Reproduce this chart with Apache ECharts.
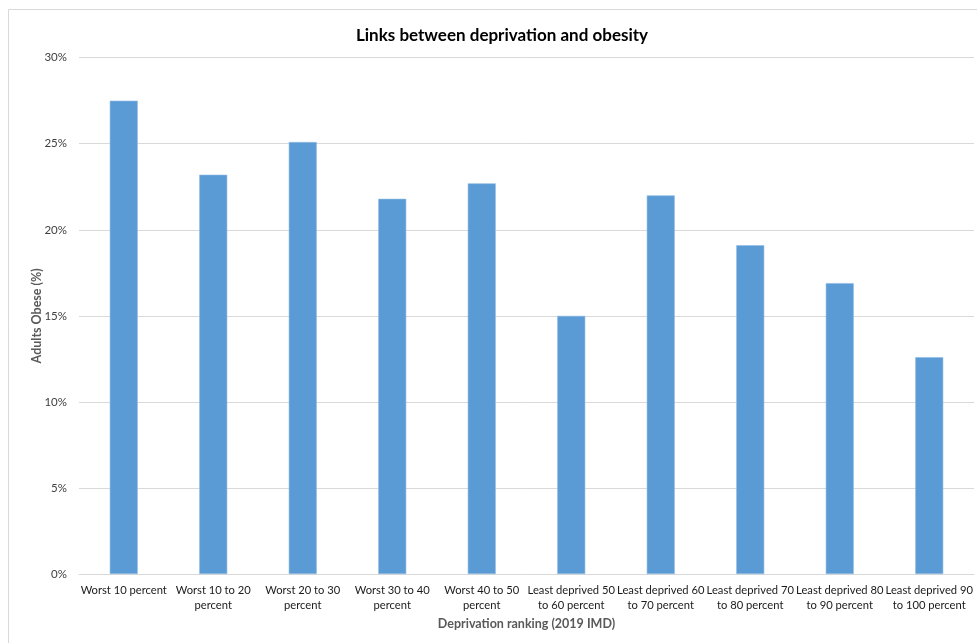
<!DOCTYPE html>
<html>
<head>
<meta charset="utf-8">
<script src="https://cdn.jsdelivr.net/npm/echarts@6/dist/echarts.min.js"></script>
<style>
  html, body { margin: 0; padding: 0; background: #ffffff; }
  #chart { width: 977px; height: 643px; }
</style>
</head>
<body>
<div id="chart"></div>
<script>
// Deprivation decile labels (IMD 2019), wrapped as shown under the axis
const categories = [
  'Worst 10 percent',
  'Worst 10 to 20\npercent',
  'Worst 20 to 30\npercent',
  'Worst 30 to 40\npercent',
  'Worst 40 to 50\npercent',
  'Least deprived 50\nto 60 percent',
  'Least deprived 60\nto 70 percent',
  'Least deprived 70\nto 80 percent',
  'Least deprived 80\nto 90 percent',
  'Least deprived 90\nto 100 percent'
];

// Share of adults classed as obese, in percent
const obesePct = [27.5, 23.2, 25.1, 21.8, 22.7, 15.0, 22.0, 19.1, 16.9, 12.6];

// Value axis ticks
const yTicks = [0, 5, 10, 15, 20, 25, 30];

const FONT = 'Lato, "Liberation Sans", sans-serif';

const chart = echarts.init(document.getElementById('chart'), null, { renderer: 'canvas' });

chart.setOption({
  animation: false,
  backgroundColor: '#ffffff',
  textStyle: { fontFamily: FONT },
  title: {
    text: 'Links between deprivation and obesity',
    left: 497,
    textAlign: 'center',
    top: 22,
    textStyle: { fontFamily: FONT, fontSize: 17, fontWeight: 'bold', color: '#000000' }
  },
  graphic: [{
    type: 'rect',
    shape: { x: 8.5, y: 9.5, width: 990, height: 660 },
    style: { fill: 'none', stroke: '#d9d9d9', lineWidth: 1 },
    silent: true,
    z: -1
  }],
  grid: { left: 79, right: 3, top: 57.7, bottom: 69, containLabel: false },
  xAxis: {
    type: 'category',
    data: categories,
    name: 'Deprivation ranking (2019 IMD)',
    nameLocation: 'middle',
    nameGap: 43,
    nameMoveOverlap: false,
    nameTextStyle: { fontFamily: FONT, fontSize: 12.5, fontWeight: 'bold', color: '#595959', verticalAlign: 'top' },
    axisLine: { lineStyle: { color: '#d9d9d9', width: 1 } },
    axisTick: { show: false },
    axisLabel: { interval: 0, margin: 9, fontFamily: FONT, fontSize: 11.2, color: '#1a1a1a', lineHeight: 15 }
  },
  yAxis: {
    type: 'value',
    min: yTicks[0],
    max: yTicks[yTicks.length - 1],
    interval: 5,
    name: 'Adults Obese (%)',
    nameLocation: 'middle',
    nameGap: 36,
    nameMoveOverlap: false,
    nameTextStyle: { fontFamily: FONT, fontSize: 12.5, fontWeight: 'bold', color: '#595959' },
    axisLine: { show: false },
    axisTick: { show: false },
    splitLine: { lineStyle: { color: '#d9d9d9', width: 1 } },
    axisLabel: { margin: 12, fontFamily: FONT, fontSize: 11.5, color: '#404040', formatter: v => v + '%' }
  },
  series: [{
    type: 'bar',
    data: obesePct,
    barWidth: 28,
    itemStyle: { color: '#5b9bd5', borderColor: '#8fbbe3', borderWidth: 0.6 }
  }]
});
</script>
</body>
</html>
